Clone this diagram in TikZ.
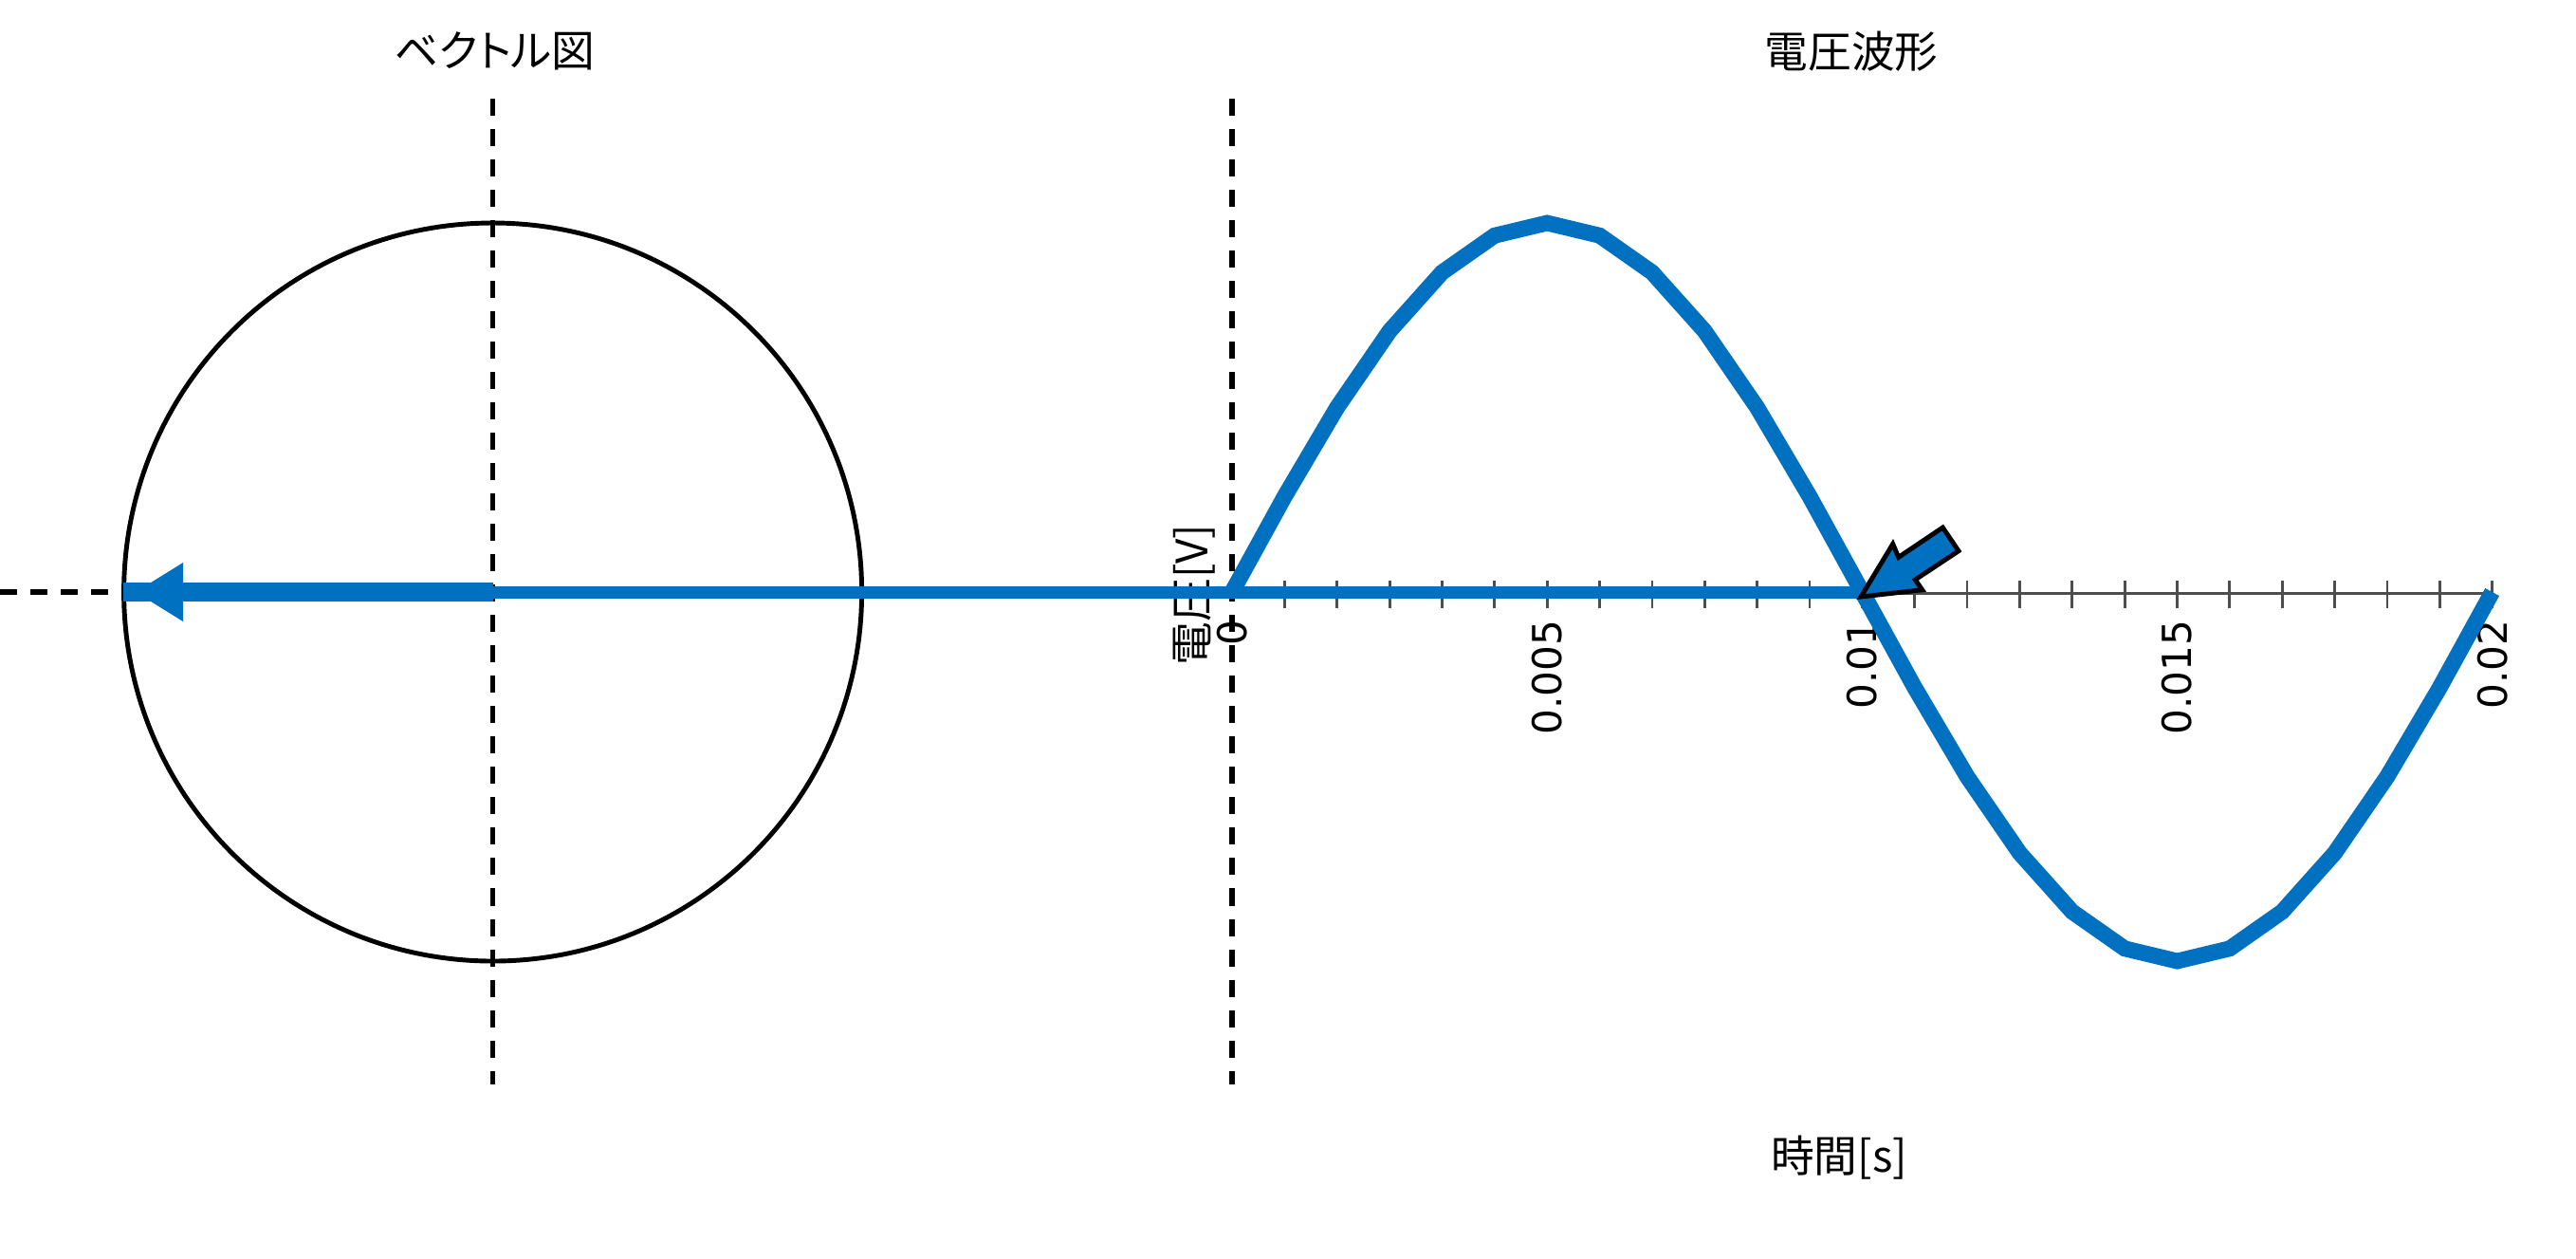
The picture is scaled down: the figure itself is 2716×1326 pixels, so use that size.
\documentclass[tikz,border=0pt]{standalone}
\usepackage{fontspec}
\setmainfont{DejaVu Sans}
\newfontfamily\jpfont[RawFeature=+palt]{Noto Sans CJK JP}
\definecolor{vblue}{HTML}{0070C0}
\definecolor{axgray}{HTML}{4D4D4D}
\tikzset{
  dashline/.style={black, line width=1.5pt, dash pattern=on 0.18cm off 0.14cm},
  wave/.style={vblue, line width=4.8pt},
  projline/.style={vblue, line width=3.7pt},
  vecline/.style={vblue, line width=5.7pt},
  tickmark/.style={axgray, line width=0.8pt},
  ticklabel/.style={rotate=90, anchor=east, inner sep=0pt, font=\fontsize{12}{14}\selectfont},
  jplabel/.style={inner sep=0pt, font=\fontsize{13}{15}\selectfont\jpfont},
}
\begin{document}
\begin{tikzpicture}[x=0.01cm,y=-0.01cm]
\useasboundingbox (0,0) rectangle (2716,1326);
% titles
\node[jplabel] (tvec) at (522,54) {ベクトル図};
\node[jplabel] (twave) at (1952,54) {電圧波形};
\node[jplabel] (xlab) at (1939,1220) {時間[s]};
\node[jplabel, rotate=90] (ylab) at (1259,627) {電圧[V]};
% dashed guides
\coordinate (c) at (519.6,624);
\draw[dashline] (519.6,104) -- (519.6,1143);
\draw[dashline] (1299,104) -- (1299,1143);
\draw[dashline] (0,624) -- (115,624);
% circle
\draw[black, line width=1.4pt] (c) circle[radius=389];
% ticks and axis
\foreach \k in {1,...,24} \draw[tickmark] ({1299+55.36*\k},612) -- ++(0,29);
\coordinate (t10) at (1963.3,625);
\coordinate (t20) at (2627.6,625);
\draw[axgray, line width=0.85pt] (t10) -- (t20);
\foreach \t/\k in {0/0,0.005/6,0.01/12,0.015/18,0.02/24}
  \node[ticklabel] at ({1299+55.36*\k},653) {\t};
% projection line
\coordinate (p10) at (1963.3,624);
\draw[projline] (c) -- (p10);
% vector arrow
\coordinate (vend) at (130,624);
\draw[vecline] (c) -- (vend);
\fill[vblue] (143,624) -- (193,593) -- (193,655) -- cycle;
% waveform
\draw[wave] plot[samples at={0,...,24}, variable=\k] ({1299+55.36*\k},{624-389*sin(15*\k)});
% pointer arrow
\draw[black, fill=vblue, line width=1.4pt, line join=miter]
  (1962,629) -- (2026.7,621.7) -- (2019.3,611) -- (2065,580.7) -- (2048.3,556)
  -- (2001.7,587.3) -- (1995.7,573.3) -- cycle;
\end{tikzpicture}
\end{document}
